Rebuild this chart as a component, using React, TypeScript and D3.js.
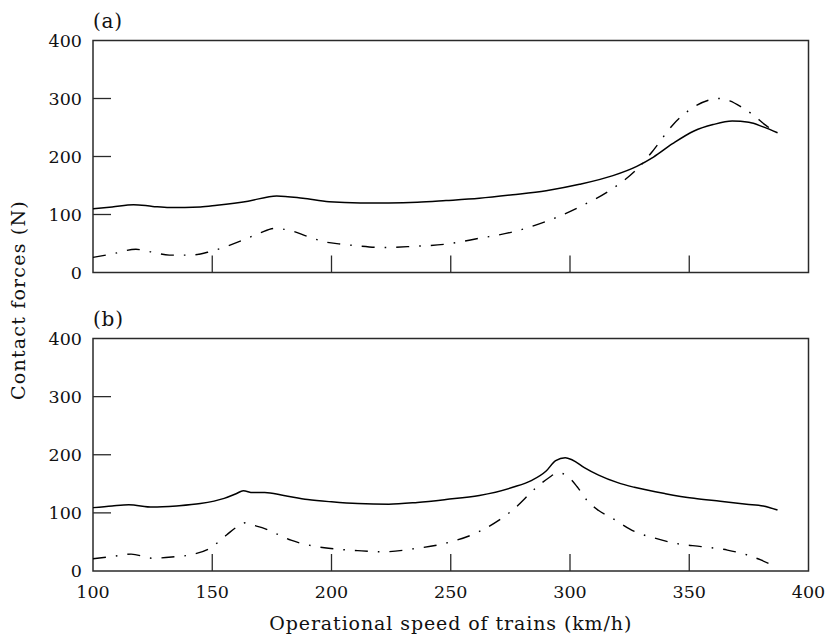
import React from "react";
import * as d3 from "d3";

const W = 828;
const H = 639;

const xTicks = [100, 150, 200, 250, 300, 350, 400];
const yTicks = [0, 100, 200, 300, 400];
const panelLabels = ["(a)", "(b)"];
const xTitle = "Operational speed of trains (km/h)";
const yTitle = "Contact forces (N)";

// Panel (a)
const aSolidSpeed = [100, 108, 117, 125, 132, 145, 152, 165, 177, 188, 199, 212, 224, 236, 248, 262, 276, 290, 304, 318, 328, 335, 343, 352, 360, 368, 375, 381, 387];
const aSolidForce = [110, 113, 117, 114, 112, 113, 116, 123, 132, 128, 122, 120, 120, 121, 124, 128, 134, 141, 152, 167, 183, 199, 222, 244, 255, 261, 259, 251, 241];
const aDashSpeed = [100, 108, 118, 125, 132, 141, 149, 156, 163, 170, 176, 183, 190, 197, 204, 211, 222, 234, 248, 262, 276, 290, 304, 318, 329, 335, 343, 353, 358, 362, 367, 372, 377, 382, 387];
const aDashForce = [26, 32, 40, 35, 30, 30, 36, 45, 56, 68, 76, 72, 62, 53, 49, 46, 43, 45, 49, 59, 70, 88, 113, 145, 182, 211, 254, 288, 297, 300, 296, 285, 271, 254, 241];

// Panel (b)
const bSolidSpeed = [100, 108, 115, 125, 135, 145, 155, 160, 163, 167, 172, 180, 190, 200, 211, 224, 236, 248, 262, 276, 284, 290, 294, 298, 301, 306, 312, 320, 327, 340, 352, 363, 374, 381, 387];
const bSolidForce = [109, 112, 114, 110, 112, 116, 125, 133, 138, 135, 135, 130, 123, 119, 116, 115, 118, 123, 130, 144, 156, 172, 190, 195, 191, 178, 165, 152, 144, 133, 125, 120, 115, 112, 105];
const bDashSpeed = [100, 108, 116, 125, 133, 141, 149, 156, 160, 164, 168, 172, 178, 183, 190, 197, 204, 211, 222, 234, 248, 262, 276, 286, 291, 295, 299, 303, 307, 312, 318, 327, 336, 345, 355, 366, 374, 380, 387];
const bDashForce = [21, 25, 29, 22, 24, 28, 39, 62, 75, 83, 78, 73, 62, 53, 45, 40, 37, 35, 33, 38, 48, 68, 105, 144, 160, 169, 163, 145, 122, 104, 90, 68, 56, 47, 42, 36, 28, 19, 6];

const panels = [
  { top: 40.5, bottom: 272.5, solid: [aSolidSpeed, aSolidForce], dash: [aDashSpeed, aDashForce] },
  { top: 338.5, bottom: 571, solid: [bSolidSpeed, bSolidForce], dash: [bDashSpeed, bDashForce] },
];

const left = 93;
const right = 808.5;
const FONT = "'DejaVu Serif', serif";
const AX = "#2a2a2a";
const TXT = "#111";

export default function App() {
  const x = d3.scaleLinear().domain([100, 400]).range([left, right]);
  return (
    <svg width={W} height={H} style={{ position: "absolute", left: 0, top: 0, background: "#fff" }}>
      <rect x={0} y={0} width={W} height={H} fill="#fff" />
      {panels.map((p, i) => {
        const y = d3.scaleLinear().domain([0, 400]).range([p.bottom, p.top]);
        const line = d3
          .line<[number, number]>()
          .x((d) => x(d[0]))
          .y((d) => y(d[1]))
          .curve(d3.curveMonotoneX);
        const solid = p.solid[0].map((s, k) => [s, p.solid[1][k]] as [number, number]);
        const dash = p.dash[0].map((s, k) => [s, p.dash[1][k]] as [number, number]);
        return (
          <g key={i}>
            <text x={left} y={p.top - 13} fontFamily={FONT} fontSize={20} letterSpacing={0.8} fill={TXT}>
              {panelLabels[i]}
            </text>
            {yTicks.map((t) => (
              <g key={"y" + t}>
                {t > 0 && t < 400 && (
                  <line x1={left} x2={left + 18} y1={y(t)} y2={y(t)} stroke={AX} strokeWidth={1.3} />
                )}
                <text
                  x={left - 11}
                  y={y(t)}
                  textAnchor="end"
                  dominantBaseline="central"
                  fontFamily={FONT}
                  fontSize={17.5}
                  fill={TXT}
                >
                  {t}
                </text>
              </g>
            ))}
            {xTicks.slice(1, -1).map((t) => (
              <line key={"x" + t} x1={x(t)} x2={x(t)} y1={p.bottom} y2={p.bottom - 17} stroke={AX} strokeWidth={1.3} />
            ))}
            <rect
              x={left}
              y={p.top}
              width={right - left}
              height={p.bottom - p.top}
              fill="none"
              stroke={AX}
              strokeWidth={1.5}
            />
            <path d={line(solid) || ""} fill="none" stroke="#000" strokeWidth={1.5} />
            <path
              d={line(dash) || ""}
              fill="none"
              stroke="#000"
              strokeWidth={1.4}
              strokeDasharray="13 10 1.6 10"
            />
          </g>
        );
      })}
      {xTicks.map((t) => (
        <text
          key={"xl" + t}
          x={x(t)}
          y={598}
          textAnchor="middle"
          fontFamily={FONT}
          fontSize={17.5}
          fill={TXT}
        >
          {t}
        </text>
      ))}
      <text
        x={(left + right) / 2}
        y={630}
        textAnchor="middle"
        fontFamily={FONT}
        fontSize={19}
        letterSpacing={0.9}
        fill={TXT}
      >
        {xTitle}
      </text>
      <text
        transform={`translate(25, 300) rotate(-90)`}
        textAnchor="middle"
        fontFamily={FONT}
        fontSize={19}
        letterSpacing={1.2}
        fill={TXT}
      >
        {yTitle}
      </text>
    </svg>
  );
}
